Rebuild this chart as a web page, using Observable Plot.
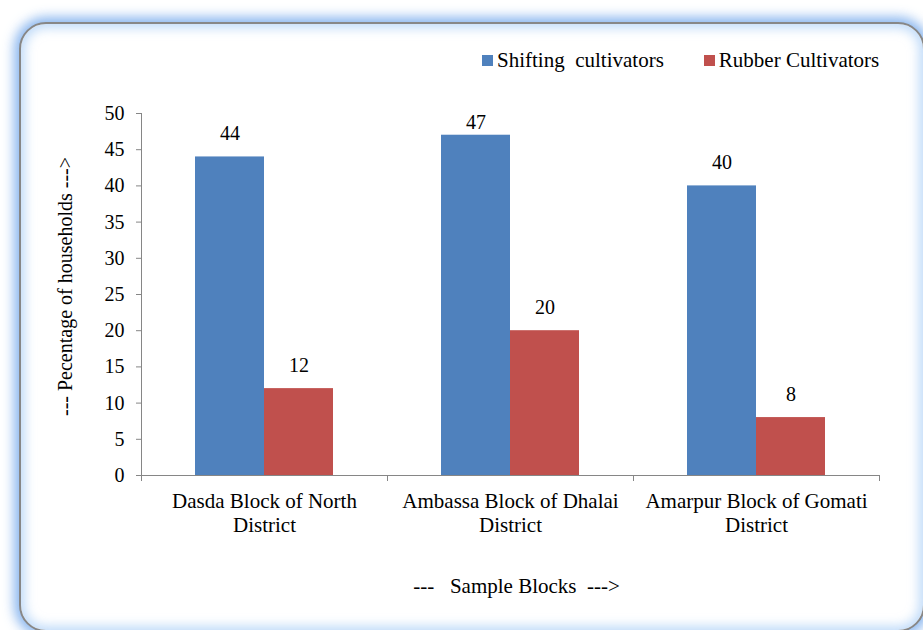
<!DOCTYPE html>
<html><head><meta charset="utf-8">
<script src="https://cdn.jsdelivr.net/npm/d3@7"></script>
<script src="https://cdn.jsdelivr.net/npm/@observablehq/plot@0.6"></script>
<style>
html,body{margin:0;padding:0;background:#fff;}
#wrap{position:relative;width:923px;height:630px;overflow:hidden;background:#fff;font-family:"Liberation Serif","Times New Roman",serif;}
#card{position:absolute;left:19px;top:22px;width:906px;height:610px;box-sizing:border-box;border:2px solid #878787;border-radius:27px;background:#fff;box-shadow:0 0 12px 5px rgba(110,165,235,0.8), inset 0 0 11px 4px rgba(150,195,245,0.6);}
#chart{position:absolute;left:0;top:0;}
#legend{position:absolute;left:482px;top:50px;font-size:21px;line-height:20px;white-space:pre;color:#000;display:flex;align-items:center;}
.sw{display:inline-block;width:11px;height:11px;margin-right:4px;}
</style></head>
<body><div id="wrap"><div id="card"></div><div id="chart"></div><div id="legend"></div></div>
<script>
const groups = ["Dasda Block of North District", "Ambassa Block of Dhalai District", "Amarpur Block of Gomati District"];
const groupLabels = ["Dasda Block of North\nDistrict", "Ambassa Block of Dhalai\nDistrict", "Amarpur Block of Gomati\nDistrict"];
const seriesNames = ["Shifting  cultivators", "Rubber Cultivators"];
const shifting = [44, 47, 40];
const rubber = [12, 20, 8];
const seriesColors = ["#4F81BD", "#C0504D"];
const yTicks = [0, 5, 10, 15, 20, 25, 30, 35, 40, 45, 50];
const yTitle = "--- Pecentage of households --->";
const xTitle = "---\u00a0\u00a0\u00a0Sample Blocks\u00a0\u00a0--->";

const data = groups.flatMap((g, i) => [
  {group: g, series: seriesNames[0], value: shifting[i]},
  {group: g, series: seriesNames[1], value: rubber[i]}
]);

const axisGray = "#868686";
const mTop = 113;
const chart = Plot.plot({
  width: 923, height: 630,
  marginLeft: 140, marginRight: 44, marginTop: mTop, marginBottom: 155,
  style: {fontFamily: '"Liberation Serif", "Times New Roman", serif', fontSize: "21px", color: "#000", background: "transparent", overflow: "visible"},
  fx: {domain: groups, padding: 0, axis: null},
  x: {domain: seriesNames, paddingInner: 0, paddingOuter: 0.76, axis: null},
  y: {domain: [0, 50], axis: null},
  color: {domain: seriesNames, range: seriesColors},
  marks: [
    Plot.axisY({ticks: yTicks, tickSize: 5, tickPadding: 12, stroke: axisGray, fill: "#000", fontSize: 20,
      label: yTitle, labelAnchor: "center", labelOffset: 84, labelArrow: "none"}),
    Plot.axisFx({anchor: "bottom", tickSize: 0, tickPadding: 16, fill: "#000", fontSize: 21, lineHeight: 1.12,
      tickFormat: d => groupLabels[groups.indexOf(d)],
      label: xTitle, labelAnchor: "center", labelOffset: 117, labelArrow: "none"}),
    Plot.barY(data, {fx: "group", x: "series", y: "value", fill: "series"}),
    Plot.text(data, {fx: "group", x: "series", y: "value", text: d => String(d.value), lineAnchor: "bottom", dy: -17, fontSize: 20, fill: "#000"}),
    Plot.ruleY([0], {stroke: axisGray})
  ]
});
document.getElementById("chart").appendChild(chart);

const svg = d3.select(chart);
// keep value labels inside the plot area (as the spreadsheet does)
svg.selectAll('g[aria-label="text"] text').each(function() {
  const b = this.getBBox();
  const ctm = this.getCTM();
  const top = b.y * ctm.d + ctm.f;
  const limit = mTop - 2;
  if (top < limit) {
    const t = d3.select(this).attr("transform") || "";
    d3.select(this).attr("transform", `translate(0,${limit - top}) ` + t);
  }
});
// nudge axis titles
svg.selectAll('g[aria-label="y-axis label"]').each(function() {
  const t = d3.select(this).attr("transform") || "";
  d3.select(this).attr("transform", "translate(0,-8) " + t);
});
svg.selectAll('g[aria-label="fx-axis label"]').each(function() {
  const t = d3.select(this).attr("transform") || "";
  d3.select(this).attr("transform", "translate(6,0) " + t);
});

// axis line and boundary tick marks, positioned with the chart's own scales
const ys = chart.scale("y");
const fxs = chart.scale("fx");
const y0 = ys.apply(0), y50 = ys.apply(50);
const gAx = svg.append("g").attr("stroke", axisGray).attr("stroke-width", 1);
const left = fxs.apply(groups[0]);
gAx.append("line").attr("x1", left + 0.5).attr("x2", left + 0.5).attr("y1", y50).attr("y2", y0);
const bounds = groups.map(g => fxs.apply(g)).concat([fxs.apply(groups[groups.length - 1]) + fxs.bandwidth]);
bounds.forEach(b => gAx.append("line").attr("x1", b + 0.5).attr("x2", b + 0.5).attr("y1", y0).attr("y2", y0 + 6));

// legend
const leg = d3.select("#legend");
seriesNames.forEach((s, i) => {
  leg.append("span").attr("class", "sw").style("background", seriesColors[i]);
  leg.append("span").style("margin-right", i === 0 ? "40px" : "0px").text(s);
});
</script>
</body></html>
